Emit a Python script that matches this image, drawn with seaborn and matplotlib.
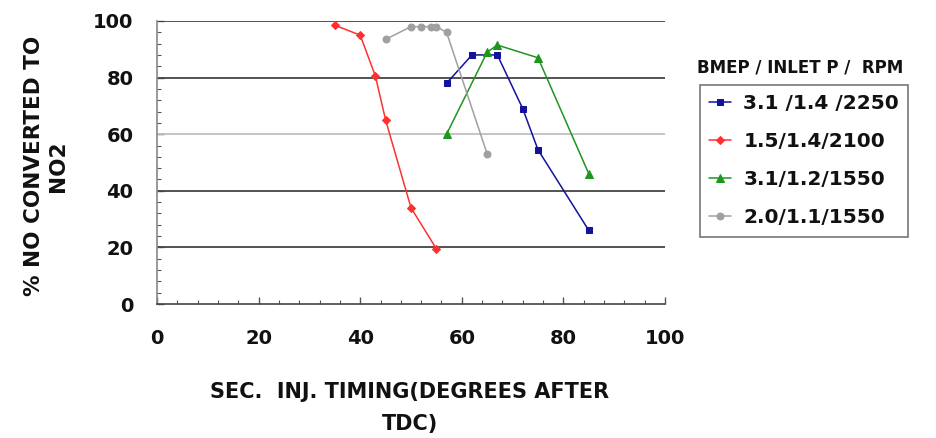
import matplotlib
matplotlib.use("Agg")
import matplotlib.pyplot as plt
import seaborn as sns
import pandas as pd
from matplotlib.ticker import MultipleLocator

# ---- data ----
series_names = ["3.1 /1.4 /2250", "1.5/1.4/2100", "3.1/1.2/1550", "2.0/1.1/1550"]
blue_x = [57, 62, 67, 72, 75, 85]
blue_y = [78, 88, 88, 69, 54.5, 26]
red_x = [35, 40, 43, 45, 50, 55]
red_y = [98.5, 95, 80.5, 65, 34, 19.5]
green_x = [57, 65, 67, 75, 85]
green_y = [60, 89, 91.5, 87, 46]
gray_x = [45, 50, 52, 54, 55, 57, 65]
gray_y = [93.5, 98, 98, 98, 98, 96, 53]

x_ticks = [0, 20, 40, 60, 80, 100]
y_ticks = [0, 20, 40, 60, 80, 100]

colors = ["#12129A", "#FF3030", "#1E961E", "#A0A0A0"]
markers = ["s", "D", "^", "o"]
msizes = [5, 4, 6, 5]

frames = []
for name, xs, ys in zip(series_names, [blue_x, red_x, green_x, gray_x],
                        [blue_y, red_y, green_y, gray_y]):
    frames.append(pd.DataFrame({"x": xs, "y": ys, "series": name}))
df = pd.concat(frames, ignore_index=True)

sns.set_style("white")
plt.rcParams["font.family"] = ["DejaVu Sans"]
plt.rcParams["font.weight"] = "bold"
plt.rcParams["text.color"] = "#111111"
plt.rcParams["xtick.color"] = "#111111"
plt.rcParams["ytick.color"] = "#111111"

fig = plt.figure(figsize=(9.37, 4.38), dpi=100)
ax = fig.add_axes([157/937, 1 - 304/438, (665-157)/937, (304-21)/438])

# gridlines
for yv in y_ticks[1:]:
    ax.axhline(yv, color="#C0C0C0" if yv == 60 else "#444444", lw=1.3, zorder=1)

for name, c, m, ms in zip(series_names, colors, markers, msizes):
    sub = df[df["series"] == name]
    sns.lineplot(data=sub, x="x", y="y", ax=ax, color=c, marker=m,
                 markersize=ms, markeredgecolor=c, lw=1.1, sort=False,
                 estimator=None, label=name, zorder=3)

ax.set_xlim(0, 100)
ax.set_ylim(0, 100)
ax.set_xticks(x_ticks)
ax.set_yticks(y_ticks)
ax.xaxis.set_minor_locator(MultipleLocator(4))
ax.yaxis.set_minor_locator(MultipleLocator(4))
ax.tick_params(axis="both", which="both", bottom=True, left=True,
               top=False, right=False)
ax.tick_params(axis="both", which="major", direction="in", length=5, width=1,
               color="#555555", labelcolor="#111111", labelsize=14)
ax.tick_params(axis="both", which="minor", direction="in", length=3, width=0.8,
               color="#555555")
ax.tick_params(axis="x", which="major", pad=18)
ax.tick_params(axis="y", which="major", pad=17)
for lab in ax.get_xticklabels() + ax.get_yticklabels():
    lab.set_fontweight("bold")

ax.spines["top"].set_visible(False)
ax.spines["right"].set_visible(False)
ax.spines["left"].set_color("#888888")
ax.spines["bottom"].set_color("#444444")
ax.spines["left"].set_linewidth(1.2)
ax.spines["bottom"].set_linewidth(1.2)

ax.set_xlabel("")
ax.set_ylabel("")
fig.text(410/937, 1 - 408/438, "SEC.  INJ. TIMING(DEGREES AFTER\nTDC)",
         ha="center", va="center", fontsize=15, fontweight="bold",
         linespacing=1.75)
fig.text(46/937, 1 - 166/438, "% NO CONVERTED TO\nNO2", rotation=90,
         ha="center", va="center", fontsize=15.5, fontweight="bold",
         linespacing=1.3)

ax.get_legend().remove()
handles, labels = ax.get_legend_handles_labels()
leg = fig.legend(handles, labels, loc="upper left",
                 bbox_to_anchor=(700/937, 1 - 85/438),
                 frameon=True, fancybox=False, edgecolor="#555555",
                 prop={"size": 14.5, "weight": "bold"}, handlelength=1.1,
                 handletextpad=0.6, labelspacing=0.95, borderpad=0.45,
                 borderaxespad=0)
leg.get_frame().set_linewidth(1.2)
fig.text(697/937, 1 - 68/438, "BMEP / INLET P /  RPM", ha="left",
         va="center", fontsize=12, fontweight="bold")

fig.savefig("out.png", dpi=100, facecolor="white")
